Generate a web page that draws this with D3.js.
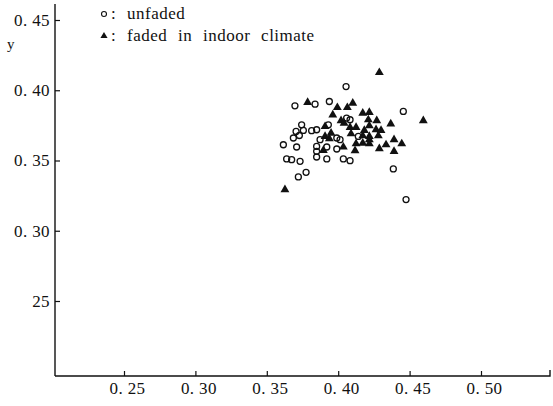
<!DOCTYPE html>
<html>
<head>
<meta charset="utf-8">
<script src="https://cdn.jsdelivr.net/npm/d3@7"></script>
<style>
  body { margin: 0; background: #fff; }
  svg { display: block; }
  svg text { font-family: "Liberation Serif", "DejaVu Serif", "Times New Roman", serif; }
</style>
</head>
<body>
<div class="canvas"></div>
<script>
// values
const unfadedX = [0.4055, 0.3697, 0.3838, 0.3938, 0.4456, 0.4083, 0.3744, 0.3705, 0.3756, 0.3814,
                  0.3849, 0.3686, 0.3728, 0.3616, 0.3709, 0.3849, 0.3873, 0.3990, 0.4013, 0.4141,
                  0.3849, 0.3920, 0.3990, 0.3639, 0.3674, 0.3733, 0.3849, 0.3920, 0.4036, 0.4083,
                  0.3721, 0.3775, 0.4386, 0.4475, 0.3931, 0.4059];
const unfadedY = [0.4026, 0.3889, 0.3901, 0.3920, 0.3849, 0.3790, 0.3754, 0.3707, 0.3714, 0.3712,
                  0.3719, 0.3660, 0.3678, 0.3612, 0.3596, 0.3600, 0.3648, 0.3660, 0.3648, 0.3671,
                  0.3565, 0.3596, 0.3582, 0.3511, 0.3506, 0.3494, 0.3525, 0.3511, 0.3511, 0.3499,
                  0.3383, 0.3416, 0.3440, 0.3222, 0.3754, 0.3802];
const fadedX = [0.4288, 0.3786, 0.3994, 0.4064, 0.4102, 0.3962, 0.4172, 0.4218, 0.4211, 0.4270,
                0.4368, 0.4596, 0.4020, 0.4041, 0.3908, 0.4083, 0.4125, 0.4183, 0.4218, 0.4265,
                0.4300, 0.3950, 0.4090, 0.4172, 0.4218, 0.4218, 0.4281, 0.3908, 0.3938, 0.4391,
                0.4445, 0.4335, 0.4125, 0.4172, 0.4218, 0.4288, 0.4391, 0.4118, 0.4036, 0.3896,
                0.3627];
const fadedY = [0.4126, 0.3913, 0.3877, 0.3877, 0.3908, 0.3825, 0.3837, 0.3842, 0.3790, 0.3783,
                0.3761, 0.3783, 0.3783, 0.3766, 0.3742, 0.3735, 0.3735, 0.3714, 0.3747, 0.3719,
                0.3714, 0.3695, 0.3690, 0.3676, 0.3671, 0.3648, 0.3676, 0.3671, 0.3655, 0.3648,
                0.3619, 0.3612, 0.3619, 0.3624, 0.3619, 0.3584, 0.3565, 0.3570, 0.3596, 0.3572,
                0.3293];

const xTicks = [0.25, 0.30, 0.35, 0.40, 0.45, 0.50];
const xTickLabels = ["0. 25", "0. 30", "0. 35", "0. 40", "0. 45", "0. 50"];
const yTicks = [0.25, 0.30, 0.35, 0.40, 0.45];
const yTickLabels = ["25", "0. 30", "0. 35", "0. 40", "0. 45"];
const legendLabels = ["unfaded", "faded in indoor climate"];

const width = 553, height = 406;
const axisX = 55, axisY = 376;
const serif = '"Liberation Serif", "DejaVu Serif", "Times New Roman", serif';

const svg = d3.select('.canvas')
    .append('svg')
    .attr('width', width)
    .attr('height', height)
    .attr('font-family', serif);

// scales
const x = d3.scaleLinear().domain([0.25, 0.50]).range([124, 481]);
const y = d3.scaleLinear().domain([0.25, 0.45]).range([301, 20]);

// axis lines
svg.append('line')
    .attr('x1', axisX).attr('x2', axisX)
    .attr('y1', 4).attr('y2', axisY)
    .attr('stroke', '#111').attr('stroke-width', 1.4);
svg.append('path')
    .attr('d', `M${axisX},${axisY}H550V${axisY - 6}`)
    .attr('fill', 'none')
    .attr('stroke', '#111').attr('stroke-width', 1.4);

// x axis, ticks pointing up
const xAxis = d3.axisBottom(x)
    .tickValues(xTicks)
    .tickSizeInner(-5)
    .tickSizeOuter(0)
    .tickPadding(6)
    .tickFormat((d, i) => xTickLabels[i]);

const xAxisGroup = svg.append('g')
    .attr('transform', `translate(0, ${axisY})`)
    .call(xAxis);

// y axis, ticks pointing right
const yAxis = d3.axisLeft(y)
    .tickValues(yTicks)
    .tickSizeInner(-5)
    .tickSizeOuter(0)
    .tickPadding(5)
    .tickFormat((d, i) => yTickLabels[i]);

const yAxisGroup = svg.append('g')
    .attr('transform', `translate(${axisX}, 0)`)
    .call(yAxis);

[xAxisGroup, yAxisGroup].forEach(g => {
    g.attr('font-family', serif).attr('font-size', 17);
    g.select('.domain').remove();
    g.selectAll('line').attr('stroke', '#111').attr('stroke-width', 1.2);
    g.selectAll('text').attr('fill', '#111').attr('letter-spacing', 0.4);
});
xAxisGroup.selectAll('text').attr('dx', 3);

// axis title
svg.append('text')
    .attr('x', 7).attr('y', 49)
    .attr('font-size', 15)
    .attr('fill', '#111')
    .text('y');

// points
const tri = d3.symbol().type(d3.symbolTriangle).size(34);

svg.append('g').selectAll('circle')
    .data(unfadedX.map((d, i) => [d, unfadedY[i]]))
    .enter().append('circle')
    .attr('cx', d => x(d[0]))
    .attr('cy', d => y(d[1]))
    .attr('r', 3)
    .attr('fill', 'none')
    .attr('stroke', '#111')
    .attr('stroke-width', 1.3);

svg.append('g').selectAll('path')
    .data(fadedX.map((d, i) => [d, fadedY[i]]))
    .enter().append('path')
    .attr('d', tri)
    .attr('transform', d => `translate(${x(d[0])}, ${y(d[1])})`)
    .attr('fill', '#111');

// legend
const legend = svg.append('g');
legend.append('circle')
    .attr('cx', 104).attr('cy', 14).attr('r', 2.5)
    .attr('fill', 'none').attr('stroke', '#111').attr('stroke-width', 1.1);
legend.append('path')
    .attr('d', d3.symbol().type(d3.symbolTriangle).size(22))
    .attr('transform', 'translate(104, 36)')
    .attr('fill', '#111');
legend.selectAll('text')
    .data(legendLabels)
    .enter().append('text')
    .attr('x', 111)
    .attr('y', (d, i) => 19 + i * 22)
    .attr('font-size', 17)
    .attr('fill', '#111')
    .attr('letter-spacing', 0.5)
    .attr('word-spacing', 6)
    .text(d => ': ' + d);
</script>
</body>
</html>
